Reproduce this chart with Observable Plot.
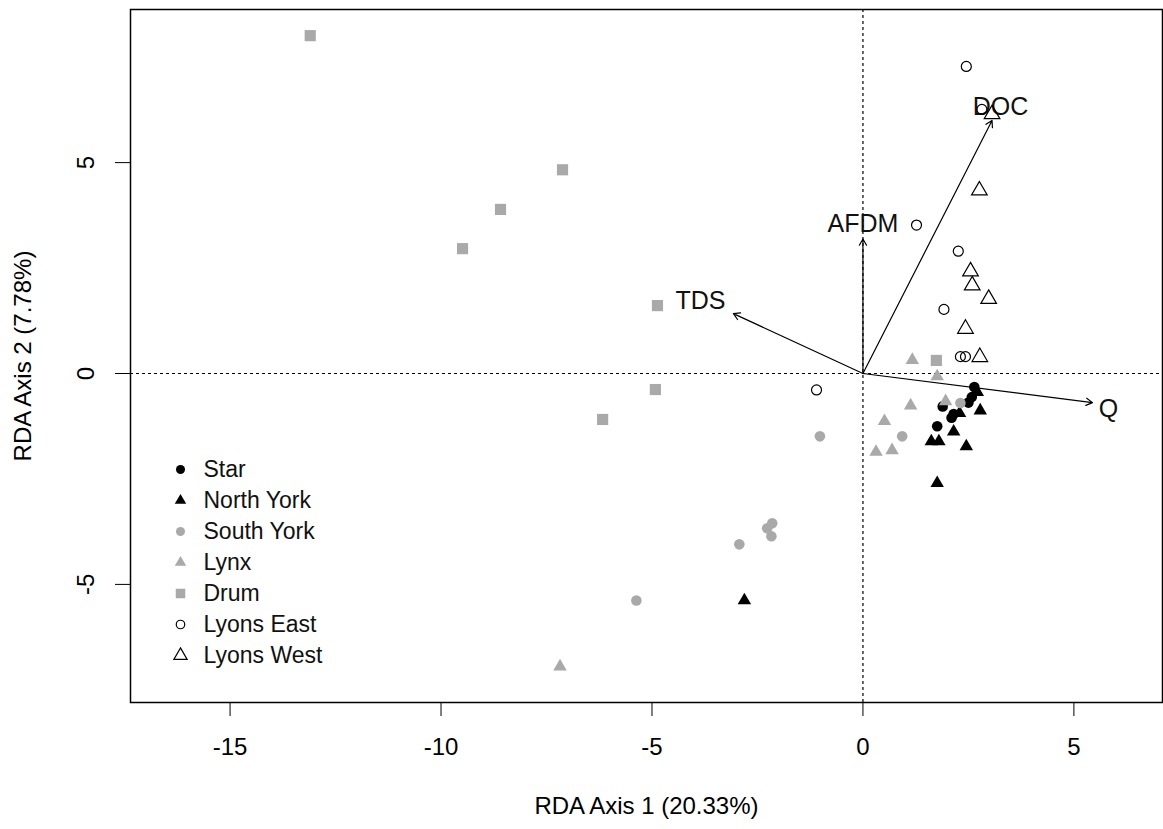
<!DOCTYPE html>
<html>
<head>
<meta charset="utf-8">
<script src="https://cdn.jsdelivr.net/npm/d3@7"></script>
<script src="https://cdn.jsdelivr.net/npm/@observablehq/plot@0.6"></script>
<style>
  body { margin: 0; background: #fff; }
  #chart { position: relative; width: 1163px; height: 829px; }
  #legend { position: absolute; left: 160px; top: 452px; }
</style>
</head>
<body>
<div id="chart"><div id="legend"></div></div>
<script>
// Site scores on the first two RDA axes, as [axis1, axis2]
const star = [[2.64, -0.32], [2.58, -0.56], [2.50, -0.69], [1.89, -0.78], [2.15, -0.96], [2.10, -1.05], [1.76, -1.25]];
const northYork = [[2.71, -0.44], [2.78, -0.88], [2.29, -0.94], [2.15, -1.38], [1.62, -1.61], [1.80, -1.61], [2.45, -1.73], [1.76, -2.60], [-2.81, -5.38]];
const southYork = [[-1.02, -1.49], [0.93, -1.49], [2.31, -0.70], [-2.15, -3.55], [-2.27, -3.67], [-2.17, -3.86], [-2.93, -4.05], [-5.37, -5.38]];
const lynx = [[-7.18, -6.95], [1.17, 0.32], [1.76, -0.07], [1.13, -0.76], [1.96, -0.66], [0.51, -1.13], [0.31, -1.86], [0.69, -1.82]];
const drum = [[-13.10, 8.01], [-7.12, 4.83], [-8.59, 3.89], [-9.49, 2.96], [-4.87, 1.61], [-4.92, -0.38], [-6.17, -1.09], [1.74, 0.31]];
const lyonsEast = [[2.45, 7.28], [2.82, 6.26], [1.27, 3.52], [2.26, 2.90], [1.92, 1.52], [2.31, 0.40], [2.43, 0.40], [-1.10, -0.39]];
const lyonsWest = [[3.06, 6.15], [2.76, 4.34], [2.55, 2.42], [2.59, 2.09], [2.98, 1.77], [2.43, 1.06], [2.77, 0.39]];

// Environmental vectors (biplot arrows) and where their names sit
const envNames = ["TDS", "AFDM", "DOC", "Q"];
const envX = [-3.07, 0.00, 3.06, 5.44];
const envY = [1.42, 3.19, 6.00, -0.69];
const envLabelX = [-3.85, 0.00, 3.26, 5.82];
const envLabelY = [1.71, 3.55, 6.33, -0.83];

const siteNames = ["Star", "North York", "South York", "Lynx", "Drum", "Lyons East", "Lyons West"];
const axisTicks = [-15, -10, -5, 0, 5];
const axisTicksY = [-5, 0, 5];

// Symbol styling per site
const grey = "#a9a9a9";
const series = [
  {name: "Star",       data: star,      symbol: "circle",   fill: "black", stroke: "none",  r: 5.3},
  {name: "North York", data: northYork, symbol: "triangle", fill: "black", stroke: "none",  r: 5.0},
  {name: "South York", data: southYork, symbol: "circle",   fill: grey,    stroke: "none",  r: 5.3},
  {name: "Lynx",       data: lynx,      symbol: "triangle", fill: grey,    stroke: "none",  r: 5.0},
  {name: "Drum",       data: drum,      symbol: "square",   fill: grey,    stroke: "none",  r: 6.3},
  {name: "Lyons East", data: lyonsEast, symbol: "circle",   fill: "none",  stroke: "black", r: 5.0},
  {name: "Lyons West", data: lyonsWest, symbol: "triangle", fill: "none",  stroke: "black", r: 5.8}
];

const font = "'Liberation Sans', Arial, sans-serif";
// plain hyphen for negative tick values
const plainNumber = d => String(d);

const chart = Plot.plot({
  width: 1163,
  height: 829,
  marginLeft: 130,
  marginRight: 1,
  marginTop: 9,
  marginBottom: 127,
  style: {fontFamily: font, fontSize: "24px", color: "black", background: "white", overflow: "visible"},
  x: {domain: [-17.36, 7.1]},
  y: {domain: [-7.8, 8.63]},
  marks: [
    Plot.ruleX([0], {stroke: "black", strokeWidth: 1.2, strokeDasharray: "3,3"}),
    Plot.ruleY([0], {stroke: "black", strokeWidth: 1.2, strokeDasharray: "3,3"}),
    Plot.arrow(envNames, {
      x1: 0, y1: 0,
      x2: (d, i) => envX[i], y2: (d, i) => envY[i],
      stroke: "black", strokeWidth: 1.2, headLength: 9, headAngle: 60,
      insetStart: 0, insetEnd: 0
    }),
    Plot.text(envNames, {
      x: (d, i) => envLabelX[i], y: (d, i) => envLabelY[i], text: d => d,
      fontSize: 25, fill: "#111"
    }),
    ...series.map(s => Plot.dot(s.data, {
      x: d => d[0], y: d => d[1],
      symbol: s.symbol, r: s.r, fill: s.fill, stroke: s.stroke, strokeWidth: 1.2
    })),
    Plot.axisX({
      ticks: axisTicks, tickFormat: plainNumber, tickSize: 14, tickPadding: 21,
      label: "RDA Axis 1 (20.33%)", labelAnchor: "center", labelOffset: 111, labelArrow: "none"
    }),
    Plot.axisY({
      ticks: axisTicksY, tickFormat: plainNumber, tickSize: 15, tickPadding: 22, tickRotate: -90,
      label: "RDA Axis 2 (7.78%)", labelAnchor: "center", labelOffset: 117, labelArrow: "none"
    }),
    Plot.frame({stroke: "black", strokeWidth: 1.5})
  ]
});
document.getElementById("chart").prepend(chart);

// Legend: one row per site, drawn as its own small plot
const legend = Plot.plot({
  width: 200,
  height: 220,
  marginTop: 16,
  marginBottom: 16,
  marginLeft: 20,
  marginRight: 0,
  style: {fontFamily: font, background: "transparent", overflow: "visible"},
  x: {domain: [0, 1], axis: null},
  y: {type: "point", domain: siteNames, padding: 0, axis: null},
  marks: [
    ...series.map(s => Plot.dot([s.name], {
      x: 0, y: d => d,
      symbol: s.symbol, r: s.r * 0.85, fill: s.fill, stroke: s.stroke, strokeWidth: 1.2
    })),
    Plot.text(siteNames, {
      x: 0, y: d => d, text: d => d, dx: 23, textAnchor: "start", fontSize: 23, fill: "#111"
    })
  ]
});
document.getElementById("legend").appendChild(legend);
</script>
</body>
</html>
